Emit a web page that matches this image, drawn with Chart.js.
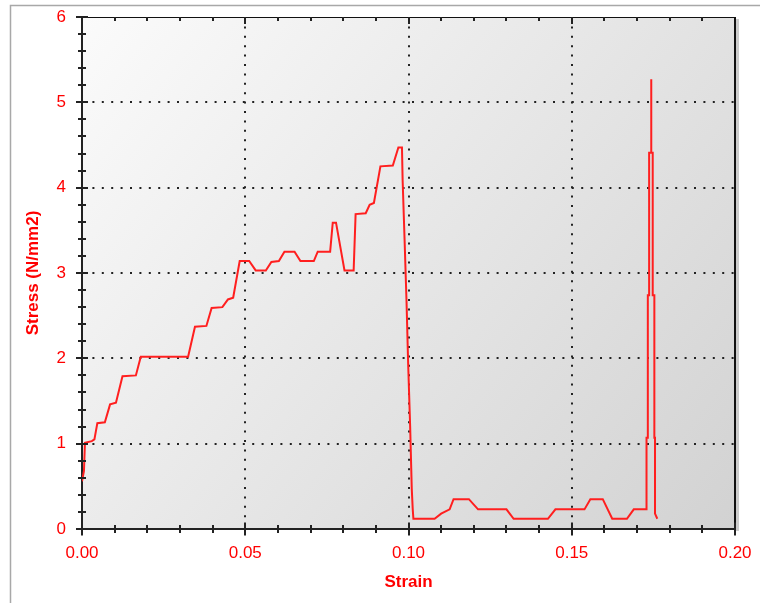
<!DOCTYPE html>
<html>
<head>
<meta charset="utf-8">
<script src="https://cdn.jsdelivr.net/npm/chart.js@4.4.1/dist/chart.umd.min.js"></script>
<style>
  html, body { margin: 0; padding: 0; background: #fff; }
  #wrap { width: 760px; height: 603px; }
</style>
</head>
<body>
<div id="wrap"><canvas id="chart" width="760" height="603"></canvas></div>
<script>
// data
const strain = [
  0.0000, 0.0006, 0.0009, 0.0030, 0.0038, 0.0047, 0.0070, 0.0086, 0.0104, 0.0124,
  0.0165, 0.0180, 0.0325, 0.0346, 0.0381, 0.0397, 0.0430, 0.0447, 0.0463, 0.0483,
  0.0512, 0.0532, 0.0563, 0.0580, 0.0603, 0.0620, 0.0651, 0.0669, 0.0710, 0.0722,
  0.0760, 0.0768, 0.0778, 0.0804, 0.0832, 0.0838, 0.0869, 0.0881, 0.0894, 0.0914,
  0.0952, 0.0969, 0.0980, 0.0982, 0.0988, 0.0994, 0.0999, 0.1005, 0.1010, 0.1013,
  0.1015, 0.1080, 0.1100, 0.1126, 0.1138, 0.1185, 0.1213, 0.1300, 0.1322, 0.1427,
  0.1450, 0.1539, 0.1557, 0.1595, 0.1624, 0.1669, 0.1690, 0.1729, 0.1729, 0.1733,
  0.1733, 0.1737, 0.1737, 0.1743, 0.1743, 0.1744, 0.1748, 0.1748, 0.1753, 0.1753,
  0.1755, 0.1755, 0.1762
];
const stress = [
  0.56, 0.68, 1.01, 1.03, 1.05, 1.24, 1.25, 1.46, 1.48, 1.79,
  1.80, 2.02, 2.02, 2.37, 2.38, 2.59, 2.60, 2.69, 2.71, 3.14,
  3.14, 3.03, 3.03, 3.13, 3.14, 3.25, 3.25, 3.14, 3.14, 3.25,
  3.25, 3.59, 3.59, 3.03, 3.03, 3.69, 3.70, 3.80, 3.82, 4.25,
  4.26, 4.47, 4.47, 4.09, 3.39, 2.66, 1.93, 1.21, 0.47, 0.23,
  0.12, 0.12, 0.18, 0.23, 0.35, 0.35, 0.23, 0.23, 0.12, 0.12,
  0.23, 0.23, 0.35, 0.35, 0.12, 0.12, 0.23, 0.23, 1.07, 1.07,
  2.74, 2.74, 4.41, 4.41, 5.27, 4.41, 4.41, 2.74, 2.74, 1.07,
  1.07, 0.18, 0.12
];
const xTicks = [0, 0.05, 0.10, 0.15, 0.20];
const yTicks = [0, 1, 2, 3, 4, 5, 6];
const xMinorStep = 0.01;
const yMinorStep = 0.2;

const FONT = "'Liberation Sans', Arial, sans-serif";
const RED = '#ff0000';

const points = strain.map((s, i) => ({ x: s, y: stress[i] }));

// gradient panel, frame, shadow and the tick marks
const plotDecor = {
  id: 'plotDecor',
  beforeDraw(chart) {
    const { ctx, chartArea: a } = chart;
    ctx.save();
    ctx.strokeStyle = '#a8a8a8';
    ctx.lineWidth = 1.5;
    ctx.beginPath();
    ctx.moveTo(10.5, 603);
    ctx.lineTo(10.5, 5.5);
    ctx.lineTo(760, 5.5);
    ctx.stroke();

    const g = ctx.createLinearGradient(a.left, a.top, a.right, a.bottom);
    g.addColorStop(0, '#fbfbfb');
    g.addColorStop(1, '#d2d2d2');
    ctx.fillStyle = g;
    ctx.fillRect(a.left, a.top, a.right - a.left, a.bottom - a.top);
    ctx.restore();
  },
  afterDraw(chart) {
    const { ctx, chartArea: a, scales: { x, y } } = chart;
    ctx.save();
    // shadow right of the frame
    ctx.fillStyle = 'rgba(0,0,0,0.2)';
    ctx.fillRect(a.right + 1, a.top + 2, 3, a.bottom - a.top);

    ctx.strokeStyle = '#111';
    ctx.lineWidth = 1;
    ctx.beginPath();
    ctx.moveTo(a.left, a.top + 0.5);
    ctx.lineTo(a.right, a.top + 0.5);
    ctx.stroke();
    ctx.lineWidth = 2;
    ctx.beginPath();
    ctx.moveTo(a.right, a.top);
    ctx.lineTo(a.right, a.bottom);
    ctx.stroke();

    // x ticks: bottom (both sides) and top (inside)
    ctx.strokeStyle = '#222';
    ctx.lineWidth = 2;
    ctx.beginPath();
    const nx = Math.round((x.max - x.min) / xMinorStep);
    for (let i = 0; i <= nx; i++) {
      const px = Math.round(x.getPixelForValue(x.min + i * xMinorStep));
      const major = i % 5 === 0;
      const len = major ? 6.5 : 4;
      ctx.moveTo(px, a.bottom - len);
      ctx.lineTo(px, a.bottom + len);
      if (i > 0 && i < nx) {
        ctx.moveTo(px, a.top);
        ctx.lineTo(px, a.top + (major ? 7 : 4));
      }
    }
    const ny = Math.round((y.max - y.min) / yMinorStep);
    for (let i = 0; i <= ny; i++) {
      const py = Math.round(y.getPixelForValue(y.min + i * yMinorStep));
      const major = i % 5 === 0;
      const len = major ? 6 : 4;
      ctx.moveTo(a.left - len, py);
      ctx.lineTo(a.left + len, py);
    }
    ctx.stroke();
    ctx.restore();
  }
};

function edgeClear(list) {
  return c => (c.index === 0 || c.index === list.length - 1) ? 'rgba(0,0,0,0)' : '#222';
}

// fixed box sizes so the plot lands where it is in the original
function fixBox(w, h) {
  return s => {
    if (w) s.width = w;
    if (h) s.height = h;
    s.paddingLeft = s.paddingRight = s.paddingTop = s.paddingBottom = 0;
  };
}

new Chart(document.getElementById('chart'), {
  type: 'scatter',
  data: {
    datasets: [{
      data: points,
      showLine: true,
      borderColor: '#ff1f1f',
      borderWidth: 2,
      pointRadius: 0,
      tension: 0,
      fill: false
    }]
  },
  options: {
    responsive: false,
    animation: false,
    layout: { padding: { top: 17, right: 25, left: 0, bottom: 0 } },
    plugins: { legend: { display: false }, tooltip: { enabled: false } },
    scales: {
      x: {
        type: 'linear',
        min: 0,
        max: 0.2,
        afterBuildTicks: s => { s.ticks = xTicks.map(v => ({ value: v })); },
        afterFit: fixBox(0, 74),
        ticks: {
          color: RED,
          font: { family: FONT, size: 17 },
          padding: 14,
          callback: v => Number(v).toFixed(2)
        },
        grid: { color: edgeClear(xTicks), lineWidth: 2, drawTicks: false },
        border: { display: true, color: '#222', width: 2, dash: [2, 7.4] },
        title: {
          display: true, text: 'Strain', color: RED,
          font: { family: FONT, size: 17, weight: 'bold' },
          padding: { top: 0, bottom: 10 }
        }
      },
      y: {
        type: 'linear',
        min: 0,
        max: 6,
        afterBuildTicks: s => { s.ticks = yTicks.map(v => ({ value: v })); },
        afterFit: fixBox(82, 0),
        ticks: {
          color: RED,
          font: { family: FONT, size: 17 },
          padding: 16,
          callback: v => String(v)
        },
        grid: { color: edgeClear(yTicks), lineWidth: 2, drawTicks: false },
        border: { display: true, color: '#222', width: 2, dash: [2, 7.4] },
        title: {
          display: true, text: 'Stress (N/mm2)', color: RED,
          font: { family: FONT, size: 17, weight: 'bold' },
          padding: { top: 23, bottom: 0 }
        }
      }
    }
  },
  plugins: [plotDecor]
});
</script>
</body>
</html>
